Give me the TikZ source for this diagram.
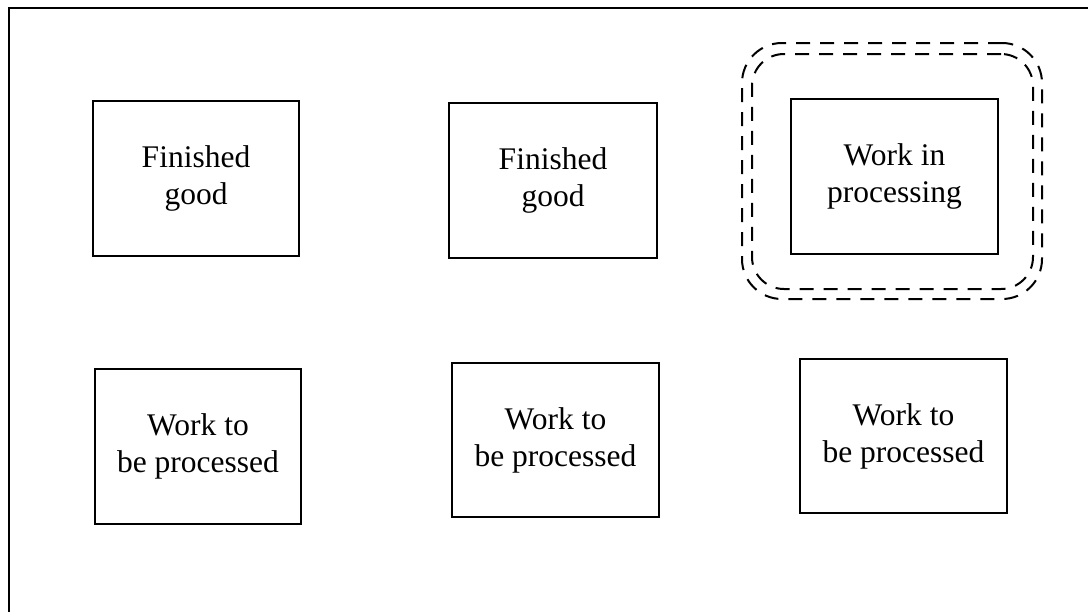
\documentclass[tikz,border=0pt]{standalone}
\usepackage{fontspec}
\setmainfont{Liberation Serif}
\begin{document}
\begin{tikzpicture}[x=1pt,y=-1pt,
  frame/.style={draw=black, line width=2.2pt},
  box/.style={draw=black, line width=2.2pt, align=center, inner sep=0pt,
    minimum width=206pt, minimum height=155pt,
    font=\fontsize{31.5}{37}\selectfont},
  dashring/.style={draw=black, line width=2pt, dash pattern=on 14pt off 10pt,
    inner sep=0pt}
]
\useasboundingbox (0,0) rectangle (1088,611);
\clip (0,0) rectangle (1088,611);
\node[frame, inner sep=0pt, minimum width=1100pt, minimum height=620pt, anchor=north west] (frame) at (8,7) {};
% top row
\node[box] (fg1) at (196,178.5) {Finished\\good};
\node[box, minimum width=208pt] (fg2) at (553,180.5) {Finished\\good};
\node[dashring, rounded corners=40pt, minimum width=300pt, minimum height=256pt] (ringout) at (892,171) {};
\node[dashring, rounded corners=32pt, minimum width=281pt, minimum height=235pt] (ringin) at (892.5,171.5) {};
\node[box, minimum width=207pt] (wip) at (894.5,176.5) {Work in\\processing};
% bottom row
\node[box] (wtb1) at (198,446.5) {Work to\\be processed};
\node[box, minimum width=207pt, minimum height=154pt] (wtb2) at (555.5,440) {Work to\\be processed};
\node[box, minimum width=207pt, minimum height=154pt] (wtb3) at (903.5,436) {Work to\\be processed};
\end{tikzpicture}
\end{document}
